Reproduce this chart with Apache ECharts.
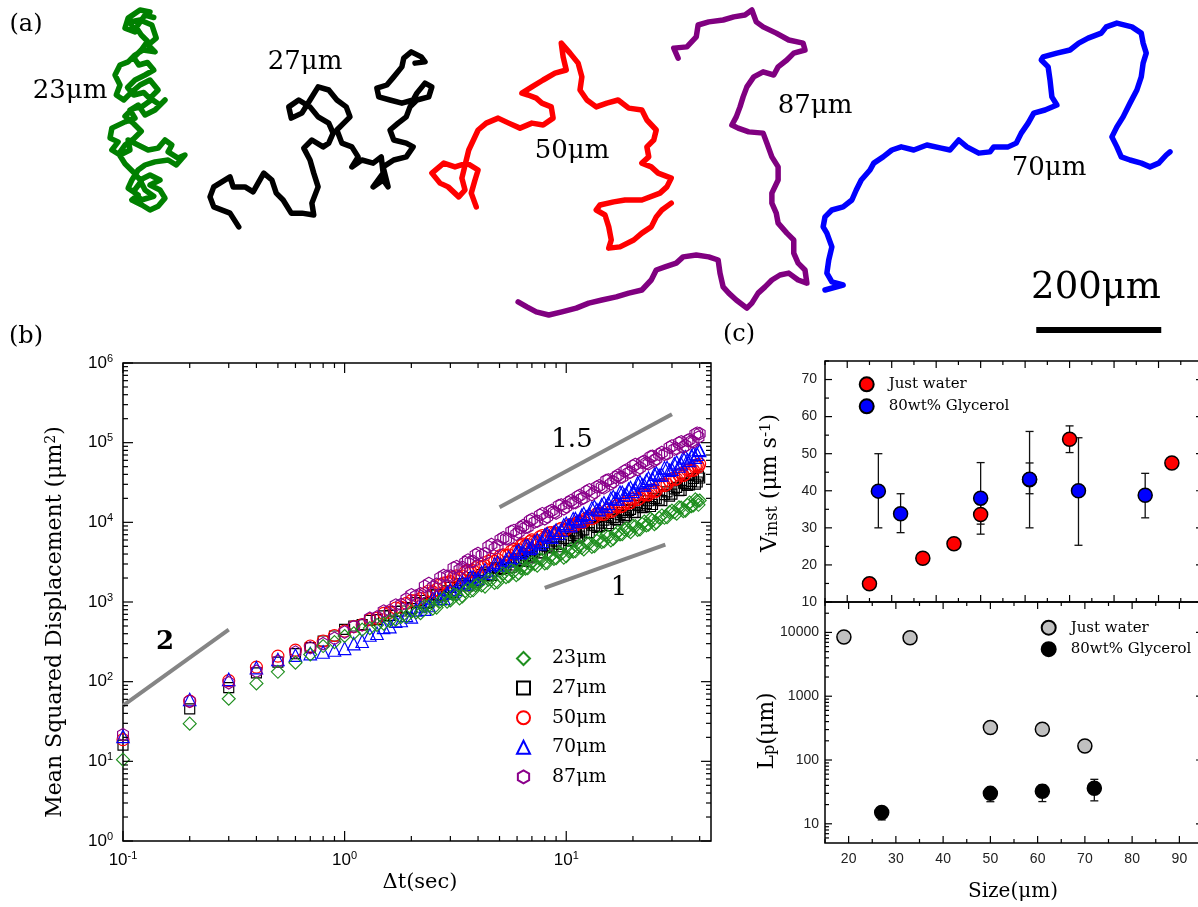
<!DOCTYPE html>
<html><head><meta charset="utf-8">
<script src="https://cdn.jsdelivr.net/npm/echarts@6.0.0/dist/echarts.min.js"></script>
<style>html,body{margin:0;padding:0;background:#fff}#c{width:1198px;height:907px}</style>
</head><body><div id="c"></div>
<script>
const SERIF = "'DejaVu Serif', serif";
const SANS = "'Liberation Sans', Arial, sans-serif";

// ---------- (a) trajectories, positions in micrometres ----------
const FIELD_W_UM = 1916.8, FIELD_H_UM = 536;
const TRAJ_23 = [[240,19],[224,16],[205,29],[200,45],[216,51],[208,35],[224,32],[243,40],[250,61],[237,72],[248,83],[229,80],[216,88],[205,99],[192,104],[184,120],[192,136],[186,152],[198,160],[211,147],[224,136],[240,128],[253,144],[240,157],[256,168],[264,160],[248,176],[232,184],[221,168],[208,176],[216,189],[200,195],[179,205],[176,221],[189,227],[179,240],[192,248],[208,240],[205,224],[221,232],[237,240],[253,237],[264,224],[275,232],[269,243],[285,253],[296,248],[282,264],[269,256],[248,259],[232,264],[221,272],[211,288],[205,301],[221,312],[211,320],[227,328],[240,336],[253,330],[264,317],[256,304],[240,296],[256,288],[240,280],[224,288],[232,304],[246,314],[226,320],[214,306],[226,290],[214,276],[200,262],[190,246],[200,232],[214,222],[226,210],[214,198],[200,186],[212,174],[228,170],[242,160],[230,148],[214,152],[204,140],[216,128],[232,120],[246,112],[236,100],[222,104],[214,92],[226,80],[236,66],[226,56],[218,44],[232,24],[246,28]];
const TRAJ_27 = [[382,363],[368,341],[342,331],[336,315],[342,299],[368,283],[373,299],[392,299],[405,307],[422,277],[435,288],[442,309],[453,320],[466,341],[483,341],[502,344],[499,325],[509,299],[502,277],[496,256],[486,237],[499,224],[517,235],[526,229],[533,213],[526,197],[509,187],[496,171],[478,160],[462,171],[466,189],[483,181],[496,160],[509,139],[526,144],[539,160],[554,171],[560,187],[550,197],[539,208],[547,229],[563,235],[573,251],[563,267],[579,256],[597,261],[610,251],[613,277],[597,299],[613,288],[621,299],[613,267],[630,256],[650,251],[661,235],[650,229],[630,224],[624,208],[637,197],[650,187],[656,171],[667,160],[686,155],[691,139],[680,133],[667,149],[661,160],[643,165],[624,160],[606,155],[603,141],[619,136],[630,123],[643,107],[646,93],[658,83],[674,91],[680,99],[664,101]];
const TRAJ_50 = [[762,331],[754,309],[760,288],[765,272],[747,261],[728,267],[710,261],[691,277],[704,293],[717,299],[734,315],[744,304],[739,285],[750,240],[765,208],[778,197],[797,189],[814,197],[832,205],[851,197],[869,200],[885,189],[882,171],[867,165],[858,157],[845,152],[835,149],[851,139],[869,128],[888,117],[906,112],[901,91],[898,69],[912,85],[925,101],[931,123],[928,144],[939,160],[954,171],[971,165],[989,160],[1006,173],[1027,176],[1035,192],[1050,208],[1046,224],[1035,235],[1038,251],[1027,261],[1042,267],[1053,277],[1074,285],[1067,299],[1056,309],[1027,320],[1000,320],[982,323],[960,328],[954,336],[968,344],[974,363],[978,384],[974,397],[992,395],[1014,384],[1027,373],[1042,363],[1050,347],[1059,336],[1074,325]];
const TRAJ_87 = [[1085,93],[1078,77],[1099,75],[1114,59],[1117,40],[1134,35],[1157,32],[1174,27],[1192,24],[1203,16],[1210,35],[1221,43],[1242,53],[1262,64],[1285,69],[1288,80],[1270,85],[1259,96],[1245,107],[1238,120],[1221,115],[1206,123],[1195,139],[1189,155],[1184,171],[1178,187],[1171,200],[1181,205],[1198,211],[1221,213],[1227,229],[1235,251],[1245,267],[1245,288],[1235,309],[1235,325],[1242,341],[1245,357],[1259,373],[1270,384],[1270,405],[1277,421],[1288,432],[1291,453],[1277,448],[1262,437],[1248,440],[1235,448],[1224,459],[1213,469],[1203,485],[1195,493],[1178,480],[1166,469],[1157,459],[1152,437],[1149,416],[1134,411],[1114,408],[1093,411],[1082,421],[1064,427],[1050,432],[1042,448],[1027,464],[1006,469],[986,475],[963,480],[942,485],[922,493],[899,499],[878,504],[858,499],[843,491],[829,483]];
const TRAJ_70 = [[1320,464],[1349,456],[1331,451],[1323,437],[1326,416],[1331,395],[1323,373],[1317,363],[1320,347],[1331,336],[1349,331],[1363,320],[1370,304],[1378,288],[1392,272],[1398,261],[1413,251],[1427,240],[1442,235],[1462,240],[1483,232],[1506,237],[1520,240],[1534,224],[1547,235],[1566,245],[1584,243],[1590,235],[1613,235],[1626,229],[1634,213],[1645,197],[1654,181],[1672,176],[1691,168],[1683,155],[1680,128],[1677,107],[1666,96],[1669,91],[1691,85],[1712,80],[1726,69],[1741,61],[1762,53],[1770,43],[1787,37],[1811,43],[1826,53],[1829,69],[1834,85],[1829,101],[1826,123],[1819,144],[1808,165],[1797,187],[1787,203],[1779,219],[1787,235],[1794,251],[1808,256],[1826,261],[1840,267],[1854,261],[1866,248],[1872,243]];
const SCALE_BAR_UM = 200;
const SCALE_BAR_START = [1658, 528];

// ---------- (b) mean squared displacement ----------
const DT = [0.1,0.2,0.3,0.4,0.5,0.6,0.7,0.8,0.9,
 1.0,1.1,1.2,1.3,1.4,1.5,1.6,1.7,1.8,1.9,
 2.0,2.2,2.4,2.6,2.8,3.0,3.2,3.4,3.6,3.8,
 4.0,4.3,4.6,4.9,5.2,5.5,5.8,6.1,6.4,6.7,
 7.0,7.4,7.8,8.2,8.6,9.0,9.5,10,10.5,11,
 11.5,12,12.7,13.4,14.1,14.8,15.5,16.3,17.1,17.9,
 18.7,19.5,20.5,21.5,22.5,23.5,24.5,25.5,27,28.5,
 30,31.5,33,34.5,36,37.5,39,40];
const MSD_23 = [10.5,29.7,61,95,133,173,220,280,314,
 374,405,450,470,515,535,580,600,650,660,
 756,725,903,851,1112,1045,1226,1178,1466,1402,
 1674,1562,1911,1775,2278,2109,2421,2291,2814,2650,
 3132,2855,3402,3103,3902,3553,4038,3772,4612,4330,
 5098,4576,5471,5005,6311,5776,6602,6210,7576,7123,
 8370,7524,8946,8163,10246,9367,10609,9890,12198,11616,
 14040,12834,15330,14014,17767,16340,18643,18800];
const MSD_27 = [16,45.5,84,129,176,225,267,324,374,
 454,500,520,585,600,670,680,760,770,850,
 827,1043,984,1229,1229,1526,1404,1695,1593,2020,
 1871,2322,2162,2667,2621,3194,2911,3474,3231,4072,
 3760,4548,4149,5019,4848,5799,5264,6240,5806,7301,
 6712,8057,7434,9072,8832,10649,9672,11440,10647,13284,
 12220,14552,13340,16170,15552,18639,16740,19760,18746,24084,
 22560,27499,25208,30555,29568,35534,32085,36000];
const MSD_50 = [18.7,57,103,152,209,249,280,324,380,
 432,490,520,600,625,720,740,840,855,960,
 1040,1104,1376,1436,1730,1805,2132,2122,2499,2474,
 2829,2861,3413,3414,3904,3895,4586,4541,5334,5267,
 6032,5904,6825,6664,7457,7239,8382,8160,9450,9215,
 10400,10080,11760,11543,12978,12635,14560,14208,16485,16005,
 18200,17664,20370,20079,22660,22135,25584,24960,29925,30070,
 35360,35040,40950,40352,45732,45030,53040,54000];
const MSD_70 = [20.6,59.7,107,150,190,215,225,236,250,
 262,300,322,385,405,480,490,575,585,680,
 651,877,903,1177,1113,1418,1440,1782,1692,2078,
 1972,2536,2489,3150,2926,3654,3638,4439,4183,5109,
 4836,6046,5795,7194,6532,7980,7968,9720,9118,11130,
 10509,12947,12635,15805,14444,17640,17280,21060,19740,23850,
 22320,27392,26220,32482,29440,35910,34944,41688,39480,48654,
 46500,57245,54340,66490,59800,72975,71520,80000];
const MSD_87 = [21.6,56.8,97,135,181,235,267,300,350,
 420,490,515,625,650,770,785,915,930,1090,
 1231,1269,1711,1674,2153,2116,2786,2727,3360,3236,
 4066,4042,5287,5115,6405,6164,7884,7553,9116,8742,
 10914,10340,12862,11718,14070,13064,16524,15675,18762,17670,
 21721,20304,25615,23715,28875,27048,34020,32300,39008,36921,
 45475,42676,53301,48546,58380,54280,67500,62700,75260,72540,
 90950,84130,102460,92070,109200,102120,131760,130000];
// intermediate lag times (dense part of the curves)
const DT_B = [2.1,2.3,2.5,2.7,2.9,3.1,3.3,3.5,3.7,3.9,
 4.15,4.45,4.75,5.05,5.35,5.65,5.95,6.25,6.55,6.85,
 7.2,7.6,8.0,8.4,8.8,9.25,9.75,10.25,10.75,11.25,
 11.75,12.35,13.05,13.75,14.45,15.15,15.9,16.7,17.5,18.3,
 19.1,20,21,22,23,24,25,26.25,27.75,29.25,
 30.75,32.25,33.75,35.25,36.75,38.25,39.5];
const MSD_23_B = [740,894,826,1017,1007,1260,1112,1365,1373,1610,
 1615,1908,1734,2101,2047,2514,2178,2637,2614,3028,
 2985,3439,3059,3635,3477,4213,3609,4331,4278,4938,
 4820,5521,4927,5871,5638,6870,5922,7122,7033,8116,
 7920,9052,8045,9552,9149,11088,9473,11407,11398,13429,
 13400,15478,13800,16484,15913,19415,16605];
const MSD_27_B = [984,962,1232,1188,1380,1310,1696,1622,1882,1776,
 2205,2124,2690,2556,2915,2727,3494,3307,3806,3574,
 4373,4117,5110,4768,5341,4941,6296,5942,6833,6394,
 7775,7337,9196,8652,9770,9077,11556,10896,12480,11638,
 14098,13207,16445,15326,17150,15795,19980,19008,22308,21298,
 26341,24957,31075,29052,32651,30195,38070];
const MSD_50_B = [1043,1279,1339,1659,1754,2034,2024,2387,2391,2688,
 2765,3240,3250,3838,3866,4383,4342,5101,5097,5727,
 5796,6578,6418,7408,7281,8075,7866,9100,8973,9945,
 9943,11284,11088,12863,12691,14060,13680,15860,15617,17340,
 17412,19656,19248,22418,22197,24669,24035,28340,28858,33150,
 34193,39260,38688,45150,44982,50676,49875];
const MSD_70_B = [798,814,1106,1099,1306,1297,1685,1673,2068,1918,
 2357,2295,3003,2914,3397,3308,4227,4152,5099,4709,
 5696,5405,6922,6576,7497,7235,9256,9070,11110,10246,
 12285,11684,15151,14496,16575,15834,20063,19643,23925,21855,
 26040,24472,31283,29664,33762,32123,40125,39091,48345,45073,
 54338,50922,64419,60480,68595,65520,82658];
const MSD_87_B = [1188,1577,1533,2021,2110,2684,2534,3141,3192,3895,
 3848,4941,4709,6090,6208,7700,7091,8606,8640,10486,
 10070,12312,11102,13650,13386,16225,14787,17784,17616,21026,
 19903,24354,22295,27825,27597,33495,30458,36816,36720,43977,
 41753,50922,46001,56595,55581,66825,59753,71240,71520,87205,
 82888,99090,87815,106575,104275,128150,117180];
const SLOPE_2 = [[0.1,50],[0.3,450]];
const SLOPE_15 = [[5,15500],[30,228000]];
const SLOPE_1 = [[8,1500],[28,5250]];
const B_X_MAJOR = [0.1,1,10];
const B_X_MINOR = [0.2,0.3,0.4,0.5,0.6,0.7,0.8,0.9,2,3,4,5,6,7,8,9,20,30,40];
const B_Y_MAJOR = [1,10,100,1000,10000,100000,1000000];
const B_Y_MINOR = [];
[1,10,100,1000,10000,100000].forEach(d => { for (let k = 2; k <= 9; k++) B_Y_MINOR.push(k*d); });

// ---------- (c) speed and persistence length ----------
const V_WATER_SIZE = [25,37,44,50,61,70,93];
const V_WATER = [14.9,21.8,25.7,33.6,43,53.9,47.5];
const V_WATER_ERR = [null,null,null,[31,36.3],[39.2,47.5],[50.3,57.5],null];
const V_GLY_SIZE = [27,32,50,61,72,87];
const V_GLY = [39.9,33.8,38,43.1,40,38.8];
const V_GLY_ERR = [[30,50],[28.7,39.2],[28.3,47.6],[30,56],[25.3,54.3],[32.7,44.7]];
const LP_WATER_SIZE = [19,33,50,61,70];
const LP_WATER = [8470,8260,323,304,166];
const LP_GLY_SIZE = [27,50,61,72];
const LP_GLY = [15,30,32.4,36];
const LP_GLY_ERR = [[11.5,18],[22.2,35],[22.3,40.6],[22.9,49.8]];
const CT_X_MAJOR = [20,30,40,50,60,70,80,90,100];
const CT_X_MINOR = [15,25,35,45,55,65,75,85,95];
const CT_Y_MAJOR = [10,20,30,40,50,60,70];
const CT_Y_MINOR = [15,25,35,45,55,65,75];
const CB_X_MAJOR = [20,30,40,50,60,70,80,90];
const CB_X_MINOR = [15,25,35,45,55,65,75,85,95];
const CB_Y_MAJOR = [10,100,1000,10000];
const CB_Y_MINOR = [6,7,8,9];
[10,100,1000].forEach(d => { for (let k = 2; k <= 9; k++) CB_Y_MINOR.push(k*d); });
CB_Y_MINOR.push(20000, 30000);

// ---------- helpers ----------
function tickItems(xMaj, xMin, yMaj, yMin, xRef, yRef, majLen, minLen) {
  const it = [];
  xMaj.forEach(v => it.push([v, yRef, 0, majLen]));
  xMin.forEach(v => it.push([v, yRef, 0, minLen]));
  yMaj.forEach(v => it.push([xRef, v, 1, majLen]));
  yMin.forEach(v => it.push([xRef, v, 1, minLen]));
  return it;
}
function tickSeries(ai, items) {
  return {
    type: 'custom', xAxisIndex: ai, yAxisIndex: ai, silent: true, z: 20, clip: false,
    encode: {x: 0, y: 1}, data: items,
    renderItem: function (params, api) {
      const cs = params.coordSys;
      const p = api.coord([api.value(0), api.value(1)]);
      const kind = api.value(2), len = api.value(3);
      const L = [];
      if (kind === 0) {
        L.push([p[0], cs.y + cs.height, p[0], cs.y + cs.height - len]);
        L.push([p[0], cs.y, p[0], cs.y + len]);
      } else {
        L.push([cs.x, p[1], cs.x + len, p[1]]);
        L.push([cs.x + cs.width, p[1], cs.x + cs.width - len, p[1]]);
      }
      return {type: 'group', children: L.map(l => ({type: 'line', shape: {x1: l[0], y1: l[1], x2: l[2], y2: l[3]}, style: {stroke: '#000', lineWidth: 1.2}}))};
    }
  };
}
function errSeries(ai, xs, errs, z) {
  const d = [];
  xs.forEach((x, i) => { if (errs[i]) d.push([x, errs[i][0], errs[i][1]]); });
  return {
    type: 'custom', xAxisIndex: ai, yAxisIndex: ai, silent: true, z: z,
    encode: {x: 0, y: [1, 2]}, data: d,
    renderItem: function (params, api) {
      const a = api.coord([api.value(0), api.value(1)]);
      const b = api.coord([api.value(0), api.value(2)]);
      const w = 4;
      const st = {stroke: '#111', lineWidth: 1.3};
      return {type: 'group', children: [
        {type: 'line', shape: {x1: a[0], y1: a[1], x2: b[0], y2: b[1]}, style: st},
        {type: 'line', shape: {x1: a[0]-w, y1: a[1], x2: a[0]+w, y2: a[1]}, style: st},
        {type: 'line', shape: {x1: b[0]-w, y1: b[1], x2: b[0]+w, y2: b[1]}, style: st}
      ]};
    }
  };
}
function traj(data, color) {
  return {type: 'line', xAxisIndex: 0, yAxisIndex: 0, data: data, showSymbol: false, silent: true,
    lineStyle: {color: color, width: 5.5, cap: 'round', join: 'round', opacity: 1}, z: 2};
}
function msd(name, vals, valsB, symbol, size, color, z) {
  const pts = DT.map((t, i) => [t, vals[i]]).concat(DT_B.map((t, i) => [t, valsB[i]]));
  return {type: 'scatter', name: name, xAxisIndex: 1, yAxisIndex: 1, z: z,
    data: pts, symbol: symbol, symbolSize: size, symbolKeepAspect: true,
    itemStyle: {color: 'rgba(0,0,0,0)', borderColor: color, borderWidth: 1.15, opacity: 1},
    emphasis: {disabled: true}};
}
function slope(data) {
  return {type: 'line', xAxisIndex: 1, yAxisIndex: 1, data: data, showSymbol: false, silent: true,
    lineStyle: {color: '#858585', width: 4, cap: 'butt', opacity: 1}, z: 1};
}
function dot(name, xs, ys, ai, color, z) {
  return {type: 'scatter', name: name, xAxisIndex: ai, yAxisIndex: ai, z: z,
    data: xs.map((x, i) => [x, ys[i]]), symbol: 'circle', symbolSize: 14,
    itemStyle: {color: color, borderColor: '#000', borderWidth: 1.5, opacity: 1}, emphasis: {disabled: true}};
}
function expLabel(v) {
  const e = Math.log10(v);
  const r = Math.round(e);
  if (Math.abs(e - r) > 1e-6) return '';
  return '{b|10}{s|' + r + '}';
}
const supRich = {
  b: {fontSize: 17, fontFamily: SANS, color: '#000', lineHeight: 20, verticalAlign: 'middle'},
  s: {fontSize: 11, fontFamily: SANS, color: '#000', lineHeight: 10, verticalAlign: 'top'}
};
const HEX = 'path://M0,-1L0.866,-0.5L0.866,0.5L0,1L-0.866,0.5L-0.866,-0.5Z';
const hidden = {show: false};

const chart = echarts.init(document.getElementById('c'), null, {renderer: 'canvas'});
const option = {
  animation: false,
  backgroundColor: '#fff',
  textStyle: {fontFamily: SERIF},
  grid: [
    {left: 0, top: 0, width: 1198, height: 335, show: false, outerBoundsMode: 'none', containLabel: false},
    {left: 123, top: 363, width: 588, height: 478, show: true, borderColor: '#000', borderWidth: 1.5, backgroundColor: 'rgba(0,0,0,0)', outerBoundsMode: 'none', containLabel: false},
    {left: 825, top: 361, width: 378, height: 241, show: true, borderColor: '#000', borderWidth: 1.5, backgroundColor: 'rgba(0,0,0,0)', outerBoundsMode: 'none', containLabel: false},
    {left: 825, top: 602, width: 378, height: 241, show: true, borderColor: '#000', borderWidth: 1.5, backgroundColor: 'rgba(0,0,0,0)', outerBoundsMode: 'none', containLabel: false}
  ],
  xAxis: [
    {gridIndex: 0, type: 'value', min: 0, max: FIELD_W_UM, show: false},
    {gridIndex: 1, type: 'log', logBase: 10, min: 0.1, max: 45, axisLine: hidden, axisTick: hidden, splitLine: hidden, minorTick: hidden,
      axisLabel: {margin: 9, formatter: expLabel, rich: supRich, showMinLabel: true, showMaxLabel: true}},
    {gridIndex: 2, type: 'value', min: 15, max: 100, interval: 5, axisLine: hidden, axisTick: hidden, splitLine: hidden, axisLabel: hidden},
    {gridIndex: 3, type: 'value', min: 15, max: 95, interval: 5, axisLine: hidden, axisTick: hidden, splitLine: hidden,
      axisLabel: {margin: 9, fontFamily: SANS, fontSize: 14, color: '#222', formatter: v => (v % 10 === 0 ? String(v) : '')}}
  ],
  yAxis: [
    {gridIndex: 0, type: 'value', min: 0, max: FIELD_H_UM, inverse: true, show: false},
    {gridIndex: 1, type: 'log', logBase: 10, min: 1, max: 1000000, axisLine: hidden, axisTick: hidden, splitLine: hidden, minorTick: hidden,
      axisLabel: {margin: 10, formatter: expLabel, rich: supRich}},
    {gridIndex: 2, type: 'value', min: 10, max: 75, interval: 10, axisLine: hidden, axisTick: hidden, splitLine: hidden,
      axisLabel: {margin: 8, fontFamily: SANS, fontSize: 14, color: '#222', formatter: v => (v % 10 === 0 && v <= 70 ? String(v) : '')}},
    {gridIndex: 3, type: 'log', logBase: 10, min: 5, max: 30000, axisLine: hidden, axisTick: hidden, splitLine: hidden, minorTick: hidden,
      axisLabel: {margin: 6, fontFamily: SANS, fontSize: 14, color: '#222', formatter: v => { const e = Math.log10(v); return Math.abs(e - Math.round(e)) < 1e-6 ? String(Math.round(v)) : ''; }}}
  ],
  legend: [
    {orient: 'vertical', left: 516, top: 649, padding: 0, itemWidth: 13, itemHeight: 13, itemGap: 10.6, selectedMode: false,
      data: ['23μm', '27μm', '50μm', '70μm', '87μm'],
      textStyle: {fontFamily: SERIF, fontSize: 19, color: '#000', lineHeight: 13, padding: [0, 0, 0, 17]}},
    {orient: 'vertical', left: 858.7, top: 376.3, padding: 0, itemWidth: 14, itemHeight: 14, itemGap: 6, selectedMode: false,
      data: ['V: Just water', 'V: 80wt% Glycerol'], formatter: n => n.slice(3),
      textStyle: {fontFamily: SERIF, fontSize: 15, color: '#000', lineHeight: 14, padding: [0, 0, 0, 10]}},
    {orient: 'vertical', left: 1040.7, top: 619.7, padding: 0, itemWidth: 14, itemHeight: 14, itemGap: 5.5, selectedMode: false,
      data: ['L: Just water', 'L: 80wt% Glycerol'], formatter: n => n.slice(3),
      textStyle: {fontFamily: SERIF, fontSize: 15, color: '#000', lineHeight: 14, padding: [0, 0, 0, 10]}}
  ],
  series: [
    traj(TRAJ_23, '#008000'), traj(TRAJ_27, '#000000'), traj(TRAJ_50, '#ff0000'), traj(TRAJ_87, '#800080'), traj(TRAJ_70, '#0000ff'),
    {type: 'line', xAxisIndex: 0, yAxisIndex: 0, silent: true, showSymbol: false,
      data: [SCALE_BAR_START, [SCALE_BAR_START[0] + SCALE_BAR_UM, SCALE_BAR_START[1]]],
      lineStyle: {color: '#000', width: 6, cap: 'butt', opacity: 1}},
    slope(SLOPE_2), slope(SLOPE_15), slope(SLOPE_1),
    msd('27μm', MSD_27, MSD_27_B, 'rect', 10, '#000000', 3),
    msd('50μm', MSD_50, MSD_50_B, 'circle', 12, '#ff0000', 4),
    msd('70μm', MSD_70, MSD_70_B, 'triangle', 12.5, '#0000ff', 5),
    msd('87μm', MSD_87, MSD_87_B, HEX, 12.5, '#8b008b', 6),
    msd('23μm', MSD_23, MSD_23_B, 'diamond', 13, '#1f8f1f', 7),
    tickSeries(1, tickItems(B_X_MAJOR, B_X_MINOR, B_Y_MAJOR, B_Y_MINOR, 0.1, 1, 10, 5)),
    errSeries(2, V_WATER_SIZE, V_WATER_ERR, 3),
    errSeries(2, V_GLY_SIZE, V_GLY_ERR, 3),
    dot('V: Just water', V_WATER_SIZE, V_WATER, 2, '#ff0000', 4),
    dot('V: 80wt% Glycerol', V_GLY_SIZE, V_GLY, 2, '#0000ff', 5),
    tickSeries(2, tickItems(CT_X_MAJOR, CT_X_MINOR, CT_Y_MAJOR, CT_Y_MINOR, 15, 10, 7, 4)),
    errSeries(3, LP_GLY_SIZE, LP_GLY_ERR, 3),
    dot('L: Just water', LP_WATER_SIZE, LP_WATER, 3, '#c0c0c0', 4),
    dot('L: 80wt% Glycerol', LP_GLY_SIZE, LP_GLY, 3, '#000000', 5),
    tickSeries(3, tickItems(CB_X_MAJOR, CB_X_MINOR, CB_Y_MAJOR, CB_Y_MINOR, 15, 5, 7, 4))
  ],
  graphic: [
    {type: 'text', x: 26, y: 25, style: {text: '(a)', fontSize: 24, fontFamily: SERIF, fill: '#000', align: 'center', verticalAlign: 'middle'}},
    {type: 'text', x: 26, y: 337, style: {text: '(b)', fontSize: 24, fontFamily: SERIF, fill: '#000', align: 'center', verticalAlign: 'middle'}},
    {type: 'text', x: 739, y: 335, style: {text: '(c)', fontSize: 24, fontFamily: SERIF, fill: '#000', align: 'center', verticalAlign: 'middle'}},
    {type: 'text', x: 70, y: 91, style: {text: '23μm', fontSize: 26, fontFamily: SERIF, fill: '#000', align: 'center', verticalAlign: 'middle'}},
    {type: 'text', x: 305, y: 62, style: {text: '27μm', fontSize: 26, fontFamily: SERIF, fill: '#000', align: 'center', verticalAlign: 'middle'}},
    {type: 'text', x: 572, y: 151, style: {text: '50μm', fontSize: 26, fontFamily: SERIF, fill: '#000', align: 'center', verticalAlign: 'middle'}},
    {type: 'text', x: 815, y: 106, style: {text: '87μm', fontSize: 26, fontFamily: SERIF, fill: '#000', align: 'center', verticalAlign: 'middle'}},
    {type: 'text', x: 1049, y: 168, style: {text: '70μm', fontSize: 26, fontFamily: SERIF, fill: '#000', align: 'center', verticalAlign: 'middle'}},
    {type: 'text', x: 1096, y: 288, style: {text: '200μm', fontSize: 37, fontFamily: SERIF, fill: '#000', align: 'center', verticalAlign: 'middle'}},
    {type: 'text', x: 165, y: 642, style: {text: '2', fontSize: 26, fontWeight: 'bold', fontFamily: SERIF, fill: '#000', align: 'center', verticalAlign: 'middle'}},
    {type: 'text', x: 572, y: 440, style: {text: '1.5', fontSize: 26, fontFamily: SERIF, fill: '#000', align: 'center', verticalAlign: 'middle'}},
    {type: 'text', x: 619, y: 588, style: {text: '1', fontSize: 26, fontFamily: SERIF, fill: '#000', align: 'center', verticalAlign: 'middle'}},
    {type: 'text', x: 55, y: 622, rotation: Math.PI / 2, style: {text: 'Mean Squared Displacement (μm{sup|2})', fontSize: 22, fontFamily: SERIF, fill: '#000', align: 'center', verticalAlign: 'middle',
      rich: {sup: {fontSize: 14, fontFamily: SERIF, fill: '#000', lineHeight: 12, verticalAlign: 'top'}}}},
    {type: 'text', x: 420, y: 883, style: {text: 'Δt(sec)', fontSize: 21, fontFamily: SERIF, fill: '#000', align: 'center', verticalAlign: 'middle'}},
    {type: 'text', x: 770, y: 483, rotation: Math.PI / 2, style: {text: 'V{sub|inst} (μm s{sup|-1})', fontSize: 22, fontFamily: SERIF, fill: '#000', align: 'center', verticalAlign: 'middle',
      rich: {sub: {fontSize: 16, fontFamily: SERIF, fill: '#000', lineHeight: 12, verticalAlign: 'bottom'}, sup: {fontSize: 15, fontFamily: SERIF, fill: '#000', lineHeight: 12, verticalAlign: 'top'}}}},
    {type: 'text', x: 767, y: 731, rotation: Math.PI / 2, style: {text: 'L{sub|p}(μm)', fontSize: 22, fontFamily: SERIF, fill: '#000', align: 'center', verticalAlign: 'middle',
      rich: {sub: {fontSize: 16, fontFamily: SERIF, fill: '#000', lineHeight: 12, verticalAlign: 'bottom'}}}},
    {type: 'text', x: 1013, y: 892, style: {text: 'Size(μm)', fontSize: 20, fontFamily: SERIF, fill: '#000', align: 'center', verticalAlign: 'middle'}}
  ]
};
chart.setOption(option);
</script></body></html>
